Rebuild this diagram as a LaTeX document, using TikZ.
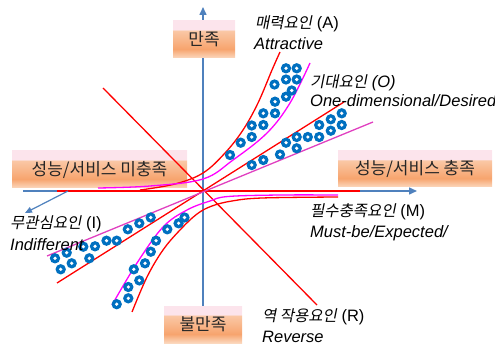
\documentclass[tikz,border=0pt]{standalone}
\usepackage{fontspec}
\setmainfont{Liberation Sans}
\newfontfamily\kr{Noto Sans CJK KR}
\newfontfamily\kri{Noto Sans CJK KR}[FakeSlant=0.2]
\usetikzlibrary{arrows.meta}
\definecolor{axblue}{HTML}{4F81BD}
\definecolor{dotblue}{HTML}{0070C0}
\definecolor{kpink}{HTML}{FCE4EC}
\definecolor{klight}{HTML}{FAC8A6}
\definecolor{kor}{HTML}{F7A46E}
\definecolor{kbot}{HTML}{FBD8BE}
\definecolor{mag}{HTML}{FF00FF}
\definecolor{magsoft}{HTML}{E040C0}
\pgfdeclareverticalshading{kanoshade}{100bp}{color(0bp)=(kbot); color(25bp)=(kbot); color(37bp)=(kor); color(62bp)=(klight); color(63.5bp)=(kpink); color(75bp)=(kpink); color(100bp)=(kpink)}
\newcommand\ko[1]{{\kri\fontsize{15.5}{18}\selectfont #1}}
\begin{document}
\begin{tikzpicture}[x=1pt,y=-1pt,
  kbox/.style={shade, shading=kanoshade, draw=none, inner sep=0pt, font=\kr\fontsize{17}{20}\selectfont, text=black!85},
  lab/.style={anchor=base west, inner sep=0pt, font=\fontsize{16.5}{19}\selectfont},
  axisline/.style={draw=axblue, line width=1.5pt},
  axarrow/.style={-{Triangle[length=8pt,width=7pt]}},
  redl/.style={draw=red, line width=1.3pt},
  magl/.style={draw=mag, line width=1.3pt},
  magsl/.style={draw=magsoft, line width=1.3pt},
  ring/.style={fill=dotblue}
]
\useasboundingbox (0,0) rectangle (495,347);
% key points
\coordinate (O) at (203,191);
\coordinate (vb) at (203,343);
\coordinate (vt) at (203,7);
\coordinate (hl) at (23,191);
\coordinate (hr) at (417,191);
% axes
\draw[axisline, axarrow] (vb) -- (vt);
\draw[axisline, axarrow] (hl) -- (hr);
% boxes
\node[kbox, minimum width=62pt, minimum height=37pt] (sat) at (204,39.5) {만족};
\node[kbox, minimum width=78pt, minimum height=37pt] (dis) at (203,324.5) {불만족};
\node[kbox, minimum width=175pt, minimum height=37pt] (unf) at (99.5,169.5) {성능/서비스 미충족};
\node[kbox, minimum width=154pt, minimum height=36pt] (ful) at (415,169) {성능/서비스 충족};
% red overlay on horizontal axis
\draw[redl] (57,191) -- (360,191);
% reverse line
\coordinate (r1) at (103,88);
\coordinate (r2) at (317,305);
\draw[redl] (r1) -- (r2);
% attractive
\draw[redl] plot[smooth, tension=0.6] coordinates {(140,190) (175,184) (203,173) (225,153) (243,130) (258,103) (272,70) (280,52)};
\draw[magl] plot[smooth, tension=0.6] coordinates {(98,188) (150,186) (203,179) (233,160) (267,133) (290,103) (310,63)};
% one-dimensional / indifferent straight lines
\draw[redl] (57,283) -- (344,102);
\draw[magsl] (47,256) -- (373,122);
% must-be
\draw[magl] plot[smooth, tension=0.6] coordinates {(112,305) (137,263) (163,227) (187,210) (210,201) (228,196.5) (280,195) (338,195)};
\draw[redl] plot[smooth, tension=0.6] coordinates {(132,312) (147,277) (163,250) (180,230) (197,214) (212,206) (232,201) (262,198) (338,197)};
% indifferent pointer
\coordinate (p1) at (68,191);
\coordinate (p2) at (25,213);
\draw[draw=axblue, line width=1.2pt, -{Triangle[length=7pt,width=6pt]}] (p1) -- (p2);
% dots
\foreach \x/\y in {
  230/155, 240.7/142.7, 251.7/137, 251.7/125.5, 263.3/125, 263.3/113.3, 275/113.3, 275/101.7, 274.5/84.5, 286/96.7, 291.7/90.5, 286/79.5, 296.7/79.5, 286/68.3, 296.7/68.3,
  251.7/165, 263.3/160, 280/154.5, 286/142.7, 296.7/137, 296.7/148.3, 307.8/137, 319.2/137, 319.2/125, 330.8/130.7, 330.8/119.3, 341.7/125, 341.7/113.3,
  55/258.3, 66.7/252.7, 60.7/269.3, 71.7/263.3, 83.3/246.7, 89.3/258.3, 95/246.3, 106.5/240.7, 116.7/240.7, 127.8/229.3, 139.3/223.3, 150.7/217.5,
  116.7/304.2, 128.3/298.3, 128.3/287, 139.3/280.4, 133.8/269.3, 145/263.3, 150.8/251.7, 156/240.7, 167.3/229.3, 178.6/223.3, 184.5/217.5}
{
  \fill[dotblue] (\x,\y) circle (5.2);
  \fill[white] (\x,\y) circle (1.8);
}
% labels
\node[lab] (labA) at (255,28.5) {\ko{매력요인} (A)};
\node[lab] (labAe) at (254,49.5) {\textit{Attractive}};
\node[lab] (labO) at (310,87.5) {\ko{기대요인} \textit{(O)}};
\node[lab] (labOe) at (310,107) {\textit{One-dimensional/Desired}};
\node[lab] (labI) at (10,229) {\ko{무관심요인} (I)};
\node[lab] (labIe) at (10,251) {\textit{Indifferent}};
\node[lab] (labM) at (310,217) {\ko{필수충족요인} (M)};
\node[lab] (labMe) at (310,238) {\textit{Must-be/Expected/}};
\node[lab] (labR) at (262,321) {\ko{역 작용요인} (R)};
\node[lab] (labRe) at (262,342) {\textit{Reverse}};
\end{tikzpicture}
\end{document}
